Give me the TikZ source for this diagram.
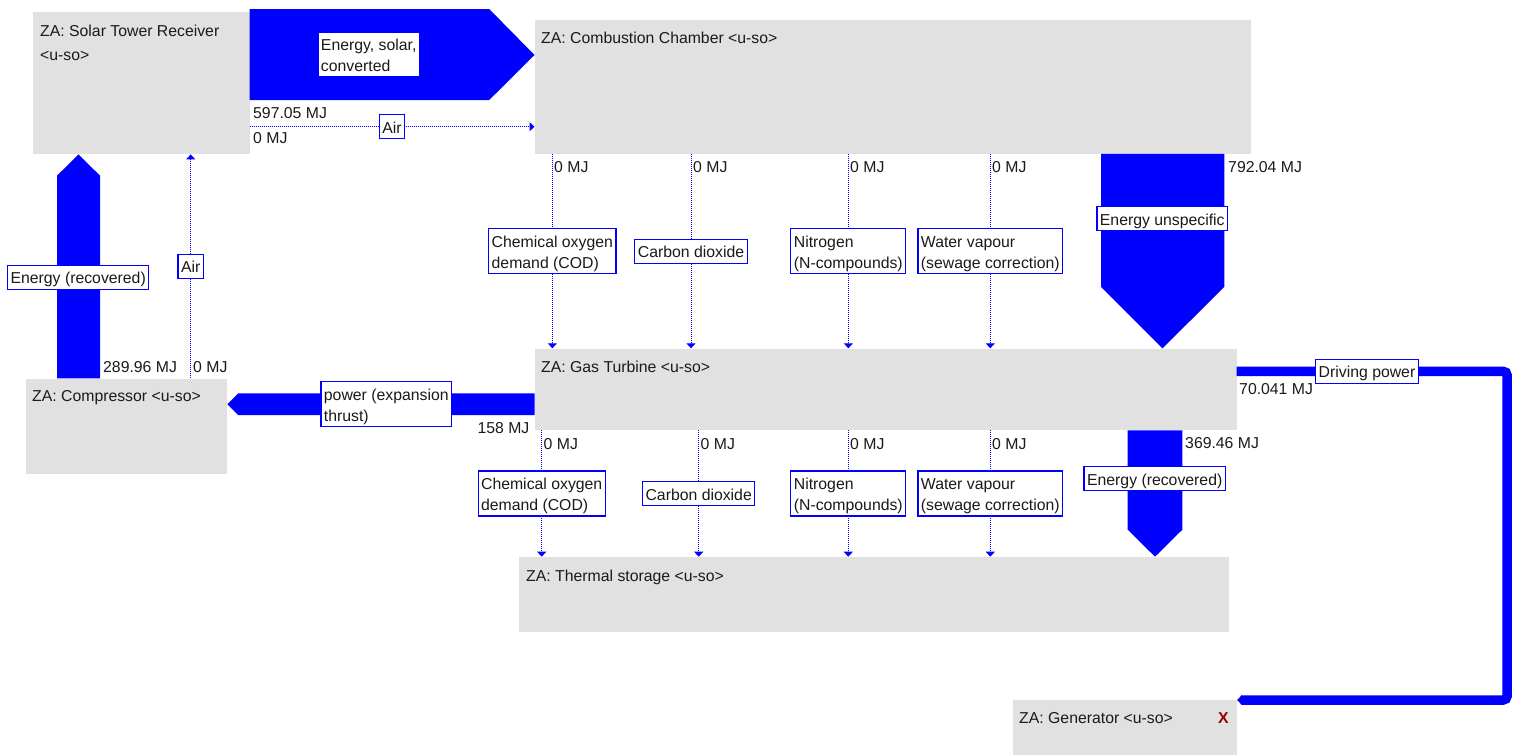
\documentclass[tikz,border=0pt]{standalone}
\usepackage{fontspec}
\setmainfont{Liberation Sans}
\usetikzlibrary{calc,arrows.meta}
\definecolor{flowblue}{HTML}{0000FF}
\definecolor{boxgray}{HTML}{E1E1E1}
\definecolor{txt}{HTML}{1A1A1A}
\definecolor{xred}{HTML}{990000}
\newcommand{\topstr}{\rule{0pt}{18.5pt}}
\newcommand{\botstr}{\rule[-5.5pt]{0pt}{5.5pt}}
\tikzset{
  every node/.style={font=\fontsize{15.8}{21}\selectfont, text=txt},
  zabox/.style={fill=boxgray, draw=none, inner sep=0pt, anchor=north west},
  flow/.style={fill=flowblue, draw=none},
  flowline/.style={draw=flowblue, line width=9.5pt, rounded corners=4pt},
  dotarrow/.style={draw=flowblue, line width=1pt, dash pattern=on 1pt off 1pt, -{Triangle[length=5pt,width=9pt]}},
  lab/.style={fill=white, draw=flowblue, solid, line width=1.2pt, inner xsep=3pt, inner ysep=0pt, align=left},
  val/.style={anchor=base west, inner sep=0pt},
  title/.style={anchor=base west, inner sep=0pt},
}
\begin{document}
\begin{tikzpicture}[x=1pt,y=-1pt]
\useasboundingbox (0,0) rectangle (1517,755);
% boxes
\node[zabox, minimum width=216.3pt, minimum height=142pt] (str) at (33,12) {};
\node[zabox, minimum width=716.2pt, minimum height=133.5pt] (cc) at (534.5,20) {};
\node[zabox, minimum width=701.8pt, minimum height=81.7pt] (gt) at (534.5,348.3) {};
\node[zabox, minimum width=201.5pt, minimum height=95.7pt] (comp) at (25.5,378.3) {};
\node[zabox, minimum width=710pt, minimum height=75.3pt] (ts) at (519,556.7) {};
\node[zabox, minimum width=224pt, minimum height=55.7pt] (gen) at (1012.3,699.3) {};
% box titles
\node[title] (tstr1) at (40,36) {ZA: Solar Tower Receiver};
\node[title] (tstr2) at (40,60) {<u-so>};
\node[title] (tcc) at (541,43.5) {ZA: Combustion Chamber <u-so>};
\node[title] (tgt) at (541,372.5) {ZA: Gas Turbine <u-so>};
\node[title] (tcomp) at (32,401.5) {ZA: Compressor <u-so>};
\node[title] (tts) at (526,581.5) {ZA: Thermal storage <u-so>};
\node[title] (tgen) at (1019,723.5) {ZA: Generator <u-so>};
\node[title, text=xred] (xgen) at (1218,723.5) {\textbf{X}};
% block flows
\fill[flow] ($(str.north east)+(0,-3)$) -- ++(239.5,0) -- ($(cc.north west)+(0,35)$)
  -- ($(str.north east)+(239.5,88)$) -- ($(str.north east)+(0,88)$) -- cycle;
\fill[flow] ($(cc.south west)+(566.5,0)$) -- ++(123.3,0) -- ++(0,133)
  -- ($(gt.north west)+(628,0)$) -- ($(cc.south west)+(566.5,133)$) -- cycle;
\fill[flow] ($(gt.south west)+(593.2,0)$) -- ++(54.6,0) -- ++(0,99.3)
  -- ($(ts.north west)+(636,0)$) -- ($(gt.south west)+(593.2,99.3)$) -- cycle;
\fill[flow] ($(comp.north west)+(31.5,0)$) -- ++(43,0) -- ++(0,-202.6)
  -- ($(str.south west)+(45.5,0)$) -- ($(comp.north west)+(31.5,-202.6)$) -- cycle;
\fill[flow] ($(gt.north west)+(0,45)$) -- ($(comp.north east)+(10.8,15)$)
  -- ($(comp.north east)+(0,25.9)$) -- ($(comp.north east)+(10.8,36.8)$)
  -- ($(gt.north west)+(0,66.8)$) -- cycle;
\draw[flowline] ($(gt.north east)+(0,23)$) -- ++(270.4,0) |- ($(gen.north east)+(5,0.7)$);
\fill[flow] ($(gen.north east)+(5.2,-4.3)$) -- ($(gen.north east)+(0.4,0.7)$) -- ($(gen.north east)+(5.2,5.7)$) -- cycle;
% dotted flows
\draw[dotarrow] ($(str.north east)+(0,114.7)$) -- ($(cc.north west)+(0,106.7)$) node[lab, midway] (lair1) {\topstr Air\botstr};
\draw[dotarrow] ($(comp.north west)+(165.2,0)$) -- ($(str.south west)+(157.7,0)$) node[lab, midway] (lair2) {\topstr Air\botstr};
\draw[dotarrow] ($(cc.south west)+(17.8,0)$) -- ($(gt.north west)+(17.8,0)$) node[lab, midway] (lc1) {\topstr Chemical oxygen\\demand (COD)\botstr};
\draw[dotarrow] ($(cc.south west)+(156.5,0)$) -- ($(gt.north west)+(156.5,0)$) node[lab, midway] (lc2) {\topstr Carbon dioxide\botstr};
\draw[dotarrow] ($(cc.south west)+(313.8,0)$) -- ($(gt.north west)+(313.8,0)$) node[lab, midway] (lc3) {\topstr Nitrogen\\(N-compounds)\botstr};
\draw[dotarrow] ($(cc.south west)+(455.8,0)$) -- ($(gt.north west)+(455.8,0)$) node[lab, midway] (lc4) {\topstr Water vapour\\(sewage correction)\botstr};
\draw[dotarrow] ($(gt.south west)+(7.2,0)$) -- ($(ts.north west)+(22.7,0)$) node[lab, midway] (ld1) {\topstr Chemical oxygen\\demand (COD)\botstr};
\draw[dotarrow] ($(gt.south west)+(164.2,0)$) -- ($(ts.north west)+(179.7,0)$) node[lab, midway] (ld2) {\topstr Carbon dioxide\botstr};
\draw[dotarrow] ($(gt.south west)+(313.8,0)$) -- ($(ts.north west)+(329.3,0)$) node[lab, midway] (ld3) {\topstr Nitrogen\\(N-compounds)\botstr};
\draw[dotarrow] ($(gt.south west)+(455.8,0)$) -- ($(ts.north west)+(471.3,0)$) node[lab, midway] (ld4) {\topstr Water vapour\\(sewage correction)\botstr};
% block flow labels
\node[lab] (lsolar) at (368.7,54.4) {\topstr Energy, solar,\\converted\botstr};
\node[lab] (lunspec) at (1162.3,218.7) {\topstr Energy unspecific\botstr};
\node[lab] (lrec1) at (78.2,277.2) {\topstr Energy (recovered)\botstr};
\node[lab] (lpow) at (386.3,404.2) {\topstr power (expansion\\thrust)\botstr};
\node[lab] (lrec2) at (1154.7,478.8) {\topstr Energy (recovered)\botstr};
\node[lab] (ldrive) at (1367,371.2) {\topstr Driving power\botstr};
% values
\node[val] (v1) at (253,118.5) {597.05 MJ};
\node[val] (v2) at (253,143.5) {0 MJ};
\node[val] (v3) at (554,172.5) {0 MJ};
\node[val] (v4) at (693,172.5) {0 MJ};
\node[val] (v5) at (850,172.5) {0 MJ};
\node[val] (v6) at (992,172.5) {0 MJ};
\node[val] (v7) at (1228,172.5) {792.04 MJ};
\node[val] (v8) at (103,372) {289.96 MJ};
\node[val] (v9) at (193,372) {0 MJ};
\node[val, anchor=base east] (v10) at (529.6,433.5) {158 MJ};
\node[val] (v11) at (1239,394.5) {70.041 MJ};
\node[val] (v12) at (543.5,449) {0 MJ};
\node[val] (v13) at (700.5,449) {0 MJ};
\node[val] (v14) at (850,449) {0 MJ};
\node[val] (v15) at (992,449) {0 MJ};
\node[val] (v16) at (1185,448.5) {369.46 MJ};
\end{tikzpicture}
\end{document}
